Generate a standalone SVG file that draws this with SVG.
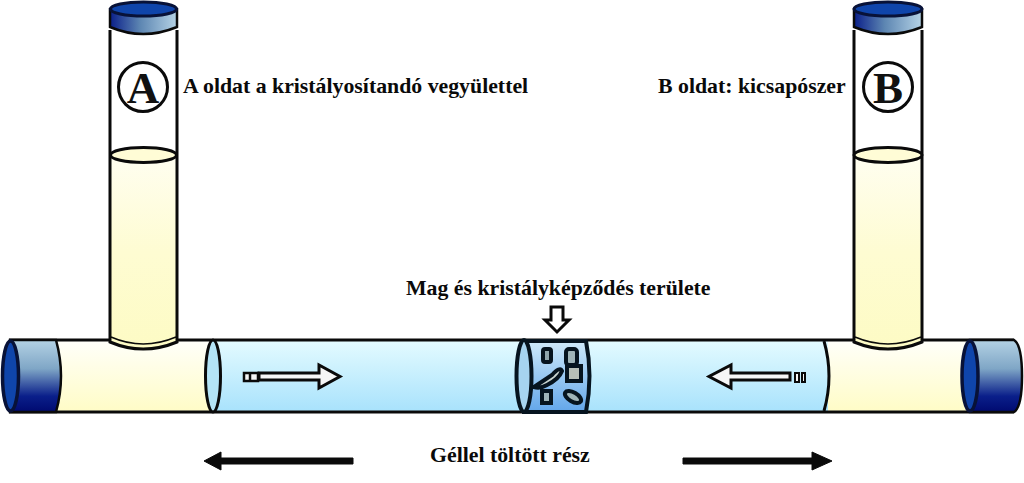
<svg xmlns="http://www.w3.org/2000/svg" width="1024" height="483" viewBox="0 0 1024 483">
<style>
.l{font-family:"Liberation Serif","Times New Roman",serif;font-weight:bold;font-size:21.8px;fill:#0a0a0a}
.o{stroke:#0a0a0a;stroke-width:3;stroke-linejoin:miter}
.t{stroke:#0a0a0a;stroke-width:3;fill:none}
.big{font-family:"Liberation Serif","Times New Roman",serif;font-weight:bold;font-size:45px;fill:#111;text-anchor:middle}
.p{stroke:#06141f;stroke-width:4}
</style>
<defs>
<linearGradient id="yv" x1="0" y1="0" x2="0" y2="1"><stop offset="0" stop-color="#fffef0"/><stop offset=".5" stop-color="#fefcd2"/><stop offset="1" stop-color="#fdfbc4"/></linearGradient>
<linearGradient id="yh" x1="0" y1="0" x2="0" y2="1"><stop offset="0" stop-color="#fffffa"/><stop offset="1" stop-color="#fffcc6"/></linearGradient>
<linearGradient id="bl" x1="0" y1="0" x2="0" y2="1"><stop offset="0" stop-color="#e4fbff"/><stop offset="1" stop-color="#a8e2fc"/></linearGradient>
<linearGradient id="cap" x1="0" y1="0" x2="0" y2="1"><stop offset="0" stop-color="#b4d2e4"/><stop offset=".4" stop-color="#7fa6c6"/><stop offset=".78" stop-color="#0a1f8a"/><stop offset="1" stop-color="#000a70"/></linearGradient>
<linearGradient id="capv" x1="0" y1="0" x2="1" y2="0"><stop offset="0" stop-color="#0a1f8a"/><stop offset=".45" stop-color="#5d86b2"/><stop offset="1" stop-color="#b5d3e6"/></linearGradient>
<linearGradient id="mid" x1="0" y1="0" x2="0" y2="1"><stop offset="0" stop-color="#cfeafa"/><stop offset="1" stop-color="#62a6ea"/></linearGradient>
</defs>
<rect width="1024" height="483" fill="#fff"/>
<g id="horizontal-tube">
<rect x="30" y="340" width="180" height="72" fill="url(#yh)"/>
<rect x="826" y="340" width="160" height="72" fill="url(#yh)"/>
<rect x="212" y="340" width="616" height="72" fill="url(#bl)"/>
<path class="t" d="M9 340H1014M9 412H1014"/>
<path class="t" d="M824 341Q834 376 824 411"/>
<ellipse cx="213" cy="376" rx="7.500" ry="36" fill="#b4e4f6" stroke="#0a0a0a" stroke-width="3"/>
</g>
<g id="left-cap">
<path d="M10 340H56Q66 376 56 412H10Z" fill="url(#cap)" stroke="#0a0a0a" stroke-width="2.500"/>
<ellipse cx="10.500" cy="376" rx="8" ry="35" fill="#0f45ab" stroke="#081238" stroke-width="3.500"/>
</g>
<g id="right-cap">
<path d="M970 340H1014Q1022 345 1022 376Q1022 407 1014 412H970Z" fill="url(#cap)" stroke="#0a0a0a" stroke-width="2.500"/>
<ellipse cx="970" cy="376" rx="8" ry="35" fill="#0f45ab" stroke="#081238" stroke-width="3.500"/>
</g>
<g id="tube-a">
<path d="M110 32H177V342Q143 358 110 342Z" fill="#fff"/>
<path d="M110 155H177V342Q143 358 110 342Z" fill="url(#yv)"/>
<path class="t" d="M110 30V342Q143 356 177 342V30"/>
<path d="M111 337Q143 351 176 337" fill="none" stroke="#0a0a0a" stroke-width="1.500"/>
<ellipse cx="143.500" cy="155" rx="33" ry="7.500" fill="#fffcd6" stroke="#0a0a0a" stroke-width="3"/>
<path d="M110 9Q143 -1 177 9V27Q143 41 110 27Z" fill="url(#capv)" stroke="#0a0a0a" stroke-width="2.500"/>
<ellipse cx="143.500" cy="9" rx="33" ry="7" fill="#0f45ab" stroke="#081238" stroke-width="3"/>
<circle cx="143" cy="87" r="24.500" fill="#fff" stroke="#0a0a0a" stroke-width="3"/>
<text class="big" x="143" y="103">A</text>
</g>
<g id="tube-b">
<path d="M854 32H922V342Q888 358 854 342Z" fill="#fff"/>
<path d="M854 155H922V342Q888 358 854 342Z" fill="url(#yv)"/>
<path class="t" d="M854 30V342Q888 356 922 342V30"/>
<path d="M855 337Q888 351 921 337" fill="none" stroke="#0a0a0a" stroke-width="1.500"/>
<ellipse cx="888" cy="155" rx="34" ry="7.500" fill="#fffcd6" stroke="#0a0a0a" stroke-width="3"/>
<path d="M854 9Q888 -1 922 9V27Q888 41 854 27Z" fill="url(#capv)" stroke="#0a0a0a" stroke-width="2.500"/>
<ellipse cx="888" cy="9" rx="34" ry="7" fill="#0f45ab" stroke="#081238" stroke-width="3"/>
<circle cx="888" cy="87" r="24.500" fill="#fff" stroke="#0a0a0a" stroke-width="3"/>
<text class="big" x="888" y="103">B</text>
</g>
<g id="crystal-zone">
<path d="M524 341H586Q593 376 586 412H524Z" fill="url(#mid)" stroke="#06141f" stroke-width="4"/>
<ellipse cx="524" cy="376" rx="7.500" ry="36" fill="#a6d4f0" stroke="#06141f" stroke-width="4"/>
<rect class="p" x="543" y="349" width="8" height="13" rx="2" fill="#8fa6ad"/>
<rect class="p" x="566" y="349" width="11" height="16" rx="3" fill="#9fb4b8"/>
<rect class="p" x="567" y="366" width="14" height="15" fill="#b8c0b8"/>
<path class="p" d="M534 387L552 375Q560 366 562 371Q559 379 547 385Q540 389 534 387Z" fill="#c8d4d0"/>
<rect class="p" x="542" y="391" width="9" height="12" fill="#9fb4b8"/>
<ellipse class="p" cx="573" cy="397" rx="9" ry="4.500" transform="rotate(30 573 397)" fill="#9fb4b8"/>
</g>
<g id="connectors">
<path class="o" fill="#f6f6f6" d="M259 373H319V365L340 376.500L319 388V380H259Z" stroke-width="2.500"/>
<path d="M244 373H258V381H244Z" fill="#f6f6f6" stroke="#0a0a0a" stroke-width="2.500"/>
<path d="M250 373V381" stroke="#0a0a0a" stroke-width="2.500"/>
<path class="o" fill="#f6f6f6" d="M790 373H731V365L709 376.500L731 388V380H790Z" stroke-width="2.500"/>
<path d="M795 373H799V382H795ZM802 373H805V382H802Z" fill="#f6f6f6" stroke="#0a0a0a" stroke-width="2"/>
<path class="o" fill="#fff" d="M551 307H563V320H569L557 332L545 320H551Z"/>
<path d="M353 458H221V452L204 461L221 470V464H353Z" fill="#0a0a0a" stroke="#0a0a0a" stroke-width="1"/>
<path d="M683 458H812V452L832 461L812 470V464H683Z" fill="#0a0a0a" stroke="#0a0a0a" stroke-width="1"/>
</g>
<g id="labels">
<text class="l" x="183" y="93">A oldat a kristályosítandó vegyülettel</text>
<text class="l" x="658" y="93">B oldat: kicsapószer</text>
<text class="l" x="406" y="295">Mag és kristályképződés területe</text>
<text class="l" x="430" y="462">Géllel töltött rész</text>
</g>
</svg>
